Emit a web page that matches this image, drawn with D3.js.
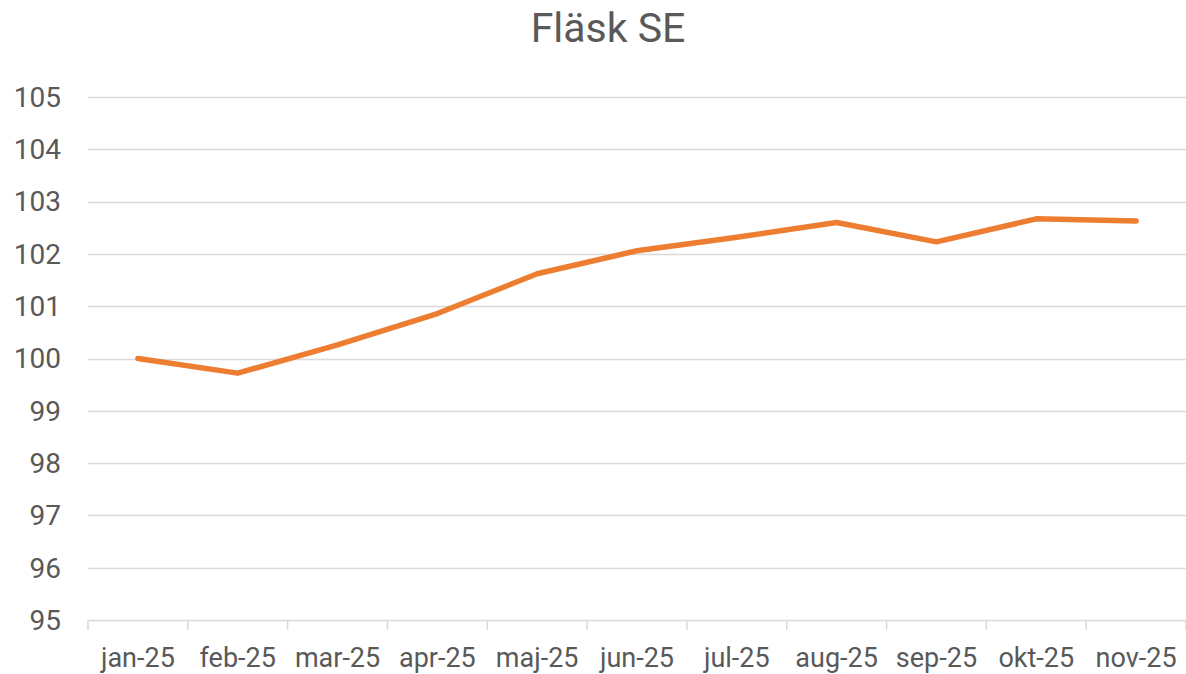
<!DOCTYPE html>
<html>
<head>
<meta charset="utf-8">
<script src="https://cdn.jsdelivr.net/npm/d3@7"></script>
<style>
  body { margin: 0; background: #fff; }
  svg text { font-family: "Roboto", "Liberation Sans", sans-serif; fill: #595959; }
</style>
</head>
<body>
<svg id="chart"></svg>
<script>
// chart data
var title = "Fläsk SE";
var months = ["jan-25", "feb-25", "mar-25", "apr-25", "maj-25", "jun-25",
	"jul-25", "aug-25", "sep-25", "okt-25", "nov-25"];
var values = [100.0, 99.72, 100.26, 100.86, 101.62, 102.06,
	102.32, 102.6, 102.23, 102.67, 102.63];
var yTicks = [95, 96, 97, 98, 99, 100, 101, 102, 103, 104, 105];

// layout
var width = 1186, height = 674;
var margin = { top: 97, right: 0, bottom: 54, left: 88 };

var svg = d3.select("svg#chart").attr("width", width).attr("height", height);

var x = d3.scaleBand().domain(months).range([ margin.left, width - margin.right ]);
var y = d3.scaleLinear().domain([ 95, 105 ]).range([ height - margin.bottom, margin.top ]);

// title
svg.append("text").attr("x", 608).attr("y", 42).attr("text-anchor", "middle")
		.style("font-size", "41px").text(title);

// gridlines
svg.append("g").selectAll("line").data(yTicks.slice(1)).enter().append("line")
		.attr("x1", margin.left).attr("x2", width - margin.right)
		.attr("y1", function(d) { return Math.round(y(d)) + 0.5; })
		.attr("y2", function(d) { return Math.round(y(d)) + 0.5; })
		.style("stroke", "#d9d9d9").style("stroke-width", 1.5);

// y labels
svg.append("g").selectAll("text").data(yTicks).enter().append("text")
		.attr("x", 61).attr("y", function(d) { return y(d); })
		.attr("dy", "0.35em").attr("text-anchor", "end")
		.style("font-size", "28px").text(function(d) { return d; });

// x axis
var xAxis = d3.axisBottom(x).tickSize(10).tickSizeOuter(0).tickFormat("");
var gx = svg.append("g").attr("transform", "translate(0," + y(95) + ")").call(xAxis);
gx.select(".domain").style("stroke", "#d9d9d9").style("stroke-width", 1.5);
gx.selectAll(".tick").remove();
// tick marks between categories
gx.selectAll("line.sep").data(months.concat([ "end" ])).enter().append("line")
		.attr("class", "sep")
		.attr("x1", function(d, i) { return margin.left + i * x.step(); })
		.attr("x2", function(d, i) { return margin.left + i * x.step(); })
		.attr("y1", 0).attr("y2", 10)
		.style("stroke", "#d9d9d9").style("stroke-width", 1.5);

svg.append("g").selectAll("text").data(months).enter().append("text")
		.attr("x", function(d) { return x(d) + x.bandwidth() / 2; })
		.attr("y", 667).attr("text-anchor", "middle")
		.style("font-size", "27px").text(function(d) { return d; });

// series line
var line = d3.line()
		.x(function(d, i) { return x(months[i]) + x.bandwidth() / 2; })
		.y(function(d) { return y(d); });

svg.append("path").datum(values).attr("d", line)
		.style("fill", "none").style("stroke", "#ED7D31")
		.style("stroke-width", 5.5).style("stroke-linejoin", "round")
		.style("stroke-linecap", "round");
</script>
</body>
</html>
